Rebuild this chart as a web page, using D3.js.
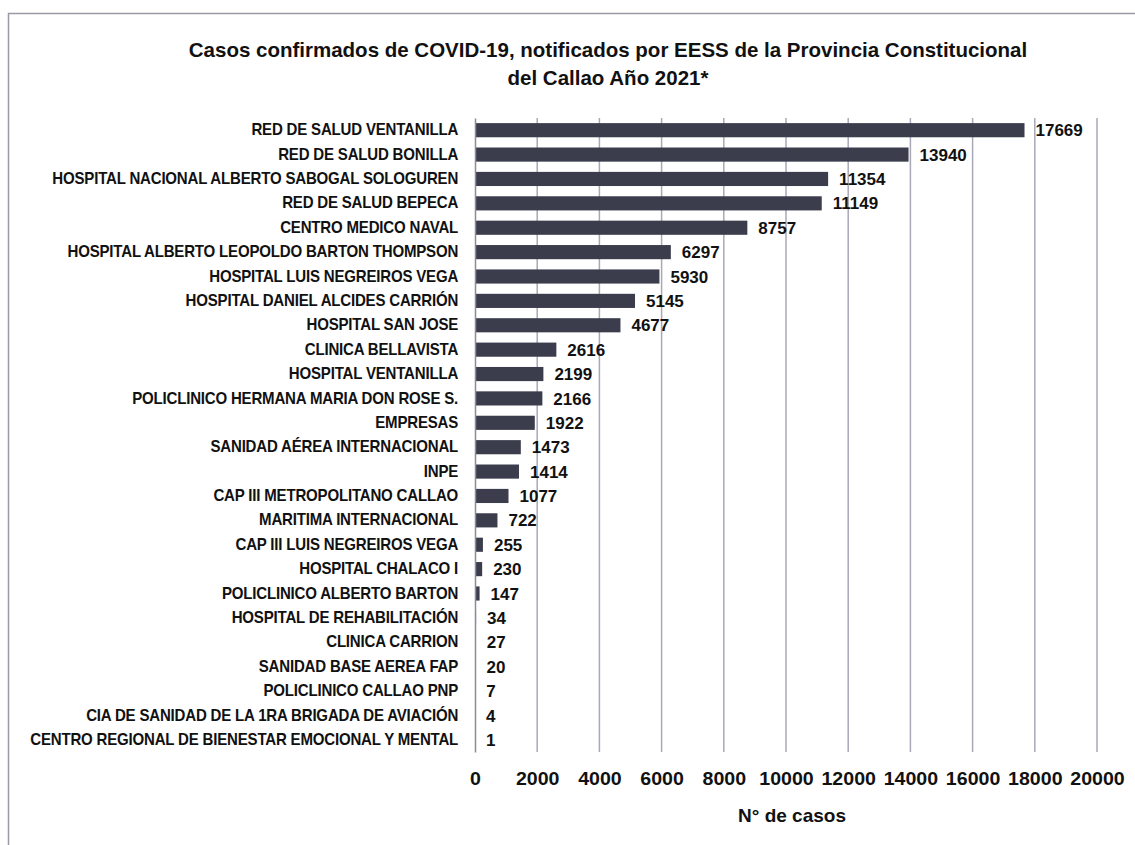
<!DOCTYPE html>
<html>
<head>
<meta charset="utf-8">
<script src="https://cdn.jsdelivr.net/npm/d3@7"></script>
<style>
  html, body { margin: 0; padding: 0; background: #fff; }
  #chart { width: 1135px; height: 845px; overflow: hidden; }
  text { font-family: "Liberation Sans", Arial, sans-serif; font-weight: bold; fill: #111; }
</style>
</head>
<body>
<div id="chart"></div>
<script>
const WIDTH = 1135;
const HEIGHT = 845;

const titleLines = [
  "Casos confirmados de COVID-19, notificados por EESS de la Provincia Constitucional",
  "del Callao Año 2021*",
];

const categories = [
  "RED DE SALUD VENTANILLA",
  "RED DE SALUD BONILLA",
  "HOSPITAL NACIONAL ALBERTO SABOGAL SOLOGUREN",
  "RED DE SALUD BEPECA",
  "CENTRO MEDICO NAVAL",
  "HOSPITAL ALBERTO LEOPOLDO BARTON THOMPSON",
  "HOSPITAL LUIS NEGREIROS VEGA",
  "HOSPITAL DANIEL ALCIDES CARRIÓN",
  "HOSPITAL SAN JOSE",
  "CLINICA BELLAVISTA",
  "HOSPITAL VENTANILLA",
  "POLICLINICO HERMANA MARIA DON ROSE S.",
  "EMPRESAS",
  "SANIDAD AÉREA INTERNACIONAL ",
  "INPE",
  "CAP III METROPOLITANO CALLAO",
  "MARITIMA INTERNACIONAL",
  "CAP III LUIS NEGREIROS VEGA",
  "HOSPITAL CHALACO I",
  "POLICLINICO ALBERTO BARTON",
  "HOSPITAL DE REHABILITACIÓN",
  "CLINICA CARRION",
  "SANIDAD BASE AEREA FAP",
  "POLICLINICO CALLAO PNP",
  "CIA DE SANIDAD DE LA 1RA BRIGADA DE AVIACIÓN",
  "CENTRO REGIONAL DE BIENESTAR EMOCIONAL Y MENTAL",
];

const casos = [
  17669, 13940, 11354, 11149, 8757, 6297, 5930, 5145, 4677, 2616,
  2199, 2166, 1922, 1473, 1414, 1077, 722, 255, 230, 147,
  34, 27, 20, 7, 4, 1,
];

const xTicks = [0, 2000, 4000, 6000, 8000, 10000, 12000, 14000, 16000, 18000, 20000];
const xTitle = "N° de casos";

const margin = { top: 118, right: 38, bottom: 93, left: 475 };

const svg = d3.select("#chart")
  .append("svg")
  .attr("width", WIDTH)
  .attr("height", HEIGHT);

// scanned frame around the figure
svg.append("rect")
  .attr("x", 8.5)
  .attr("y", 13.5)
  .attr("width", 1140)
  .attr("height", 860)
  .attr("fill", "none")
  .attr("stroke", "#9a9aa4")
  .attr("stroke-width", 1.5);

svg.append("g")
  .selectAll("text")
  .data(titleLines)
  .join("text")
  .attr("x", 608)
  .attr("y", (d, i) => 57 + i * 28)
  .attr("text-anchor", "middle")
  .attr("font-size", 20.5)
  .text((d) => d);

const x = d3.scaleLinear()
  .domain([0, 20000])
  .range([margin.left, WIDTH - margin.right]);

const y = d3.scaleBand()
  .domain(categories)
  .range([margin.top, HEIGHT - margin.bottom])
  .paddingInner(0.42)
  .paddingOuter(0.21);

// vertical gridlines
svg.append("g")
  .selectAll("line")
  .data(xTicks.slice(1))
  .join("line")
  .attr("x1", (d) => x(d))
  .attr("x2", (d) => x(d))
  .attr("y1", margin.top)
  .attr("y2", HEIGHT - margin.bottom)
  .attr("stroke", "#a9a8b8")
  .attr("stroke-width", 1.5);

// bars
svg.append("g")
  .selectAll("rect")
  .data(casos)
  .join("rect")
  .attr("x", x(0))
  .attr("y", (d, i) => y(categories[i]))
  .attr("width", (d) => x(d) - x(0))
  .attr("height", y.bandwidth())
  .attr("fill", "#3b3c4c");

// category axis (labels squeezed a little, like the narrow original font)
const yAxis = svg.append("g")
  .attr("transform", `translate(${x(0)},0)`)
  .call(d3.axisLeft(y).tickSize(0).tickPadding(18));
yAxis.select(".domain").attr("stroke", "#8c8c98").attr("stroke-width", 1.5);
yAxis.selectAll("text")
  .attr("font-size", 16)
  .attr("font-family", null)
  .attr("fill", "#111")
  .attr("transform", "scale(0.94,1)")
  .style("letter-spacing", "-0.2px");

// value labels
svg.append("g")
  .selectAll("text")
  .data(casos)
  .join("text")
  .attr("x", (d) => x(d) + 11)
  .attr("y", (d, i) => y(categories[i]) + y.bandwidth() / 2)
  .attr("dy", "0.36em")
  .attr("font-size", 17)
  .text((d) => d);

// x axis labels (no line), stretched wide as in the scan
const xAxis = svg.append("g")
  .attr("transform", `translate(0,${HEIGHT - margin.bottom})`)
  .call(d3.axisBottom(x).tickValues(xTicks).tickSize(0).tickPadding(21).tickFormat(d3.format("d")));
xAxis.select(".domain").remove();
xAxis.selectAll("text")
  .attr("font-size", 17.5)
  .attr("font-family", null)
  .attr("fill", "#111")
  .attr("transform", "scale(1.12,1)");

svg.append("text")
  .attr("x", 792)
  .attr("y", 822)
  .attr("text-anchor", "middle")
  .attr("font-size", 19)
  .text(xTitle);
</script>
</body>
</html>
